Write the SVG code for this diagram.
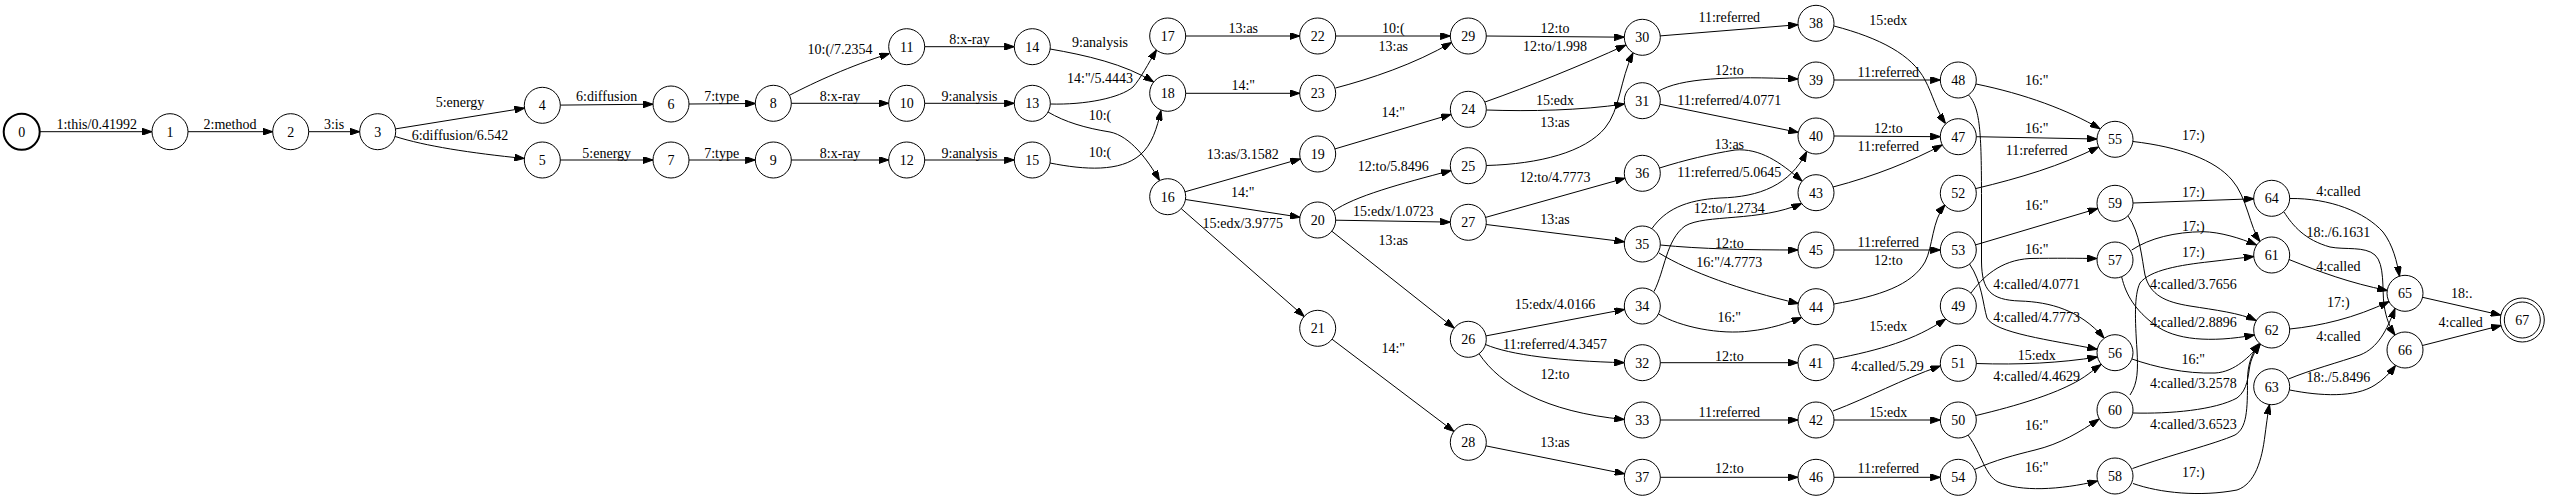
<svg xmlns="http://www.w3.org/2000/svg" width="2550" height="500" viewBox="0 0 2550 500">
<style>
.n circle{fill:none;stroke:#000;stroke-width:1}
.n text,.l{font-family:"Liberation Serif","Times New Roman",serif;font-size:14px;fill:#000;text-anchor:middle}
.e{fill:none;stroke:#000;stroke-width:1;marker-end:url(#ah)}
</style>
<defs>
<marker id="ah" viewBox="0 0 10 7" refX="10" refY="3.5" markerWidth="10" markerHeight="7" markerUnits="userSpaceOnUse" orient="auto"><path d="M0,0 L10,3.5 L0,7 z" fill="#000" stroke="#000" stroke-width="1"/></marker>
</defs>
<rect width="2550" height="500" fill="#fff"/>
<g id="connectors">
<path class="e" d="M39.7,131.7 L152,131.7"/><text class="l" x="96.7" y="129">1:this/0.41992</text>
<path class="e" d="M188,131.7 L272.7,131.7"/><text class="l" x="230" y="129">2:method</text>
<path class="e" d="M308.7,131.7 L359.7,131.7"/><text class="l" x="334" y="129">3:is</text>
<path class="e" d="M395.5,128.9 L524.5,108.1"/><text class="l" x="460" y="107">5:energy</text>
<path class="e" d="M395.2,136.5 C425,146 470,153 524.4,158.5"/><text class="l" x="460" y="140">6:diffusion/6.542</text>
<path class="e" d="M560.3,105.1 L653,104.2"/><text class="l" x="606.7" y="101">6:diffusion</text>
<path class="e" d="M560.3,160 L653,160"/><text class="l" x="606.7" y="157.5">5:energy</text>
<path class="e" d="M689,104 L755.3,103.5"/><text class="l" x="721.7" y="101">7:type</text>
<path class="e" d="M689,160 L755.3,160"/><text class="l" x="721.7" y="157.5">7:type</text>
<path class="e" d="M790,95 C815,82 850,66 889.5,53.5"/><text class="l" x="840" y="54">10:(/7.2354</text>
<path class="e" d="M791.3,103.3 L888.7,103.3"/><text class="l" x="840" y="101">8:x-ray</text>
<path class="e" d="M791.3,160 L888.7,160"/><text class="l" x="840" y="157.5">8:x-ray</text>
<path class="e" d="M924.7,46.7 L1014.3,46.7"/><text class="l" x="969.5" y="44">8:x-ray</text>
<path class="e" d="M924.7,103.3 L1014.3,103.3"/><text class="l" x="969.5" y="101">9:analysis</text>
<path class="e" d="M924.7,160 L1014.3,160"/><text class="l" x="969.5" y="157.5">9:analysis</text>
<path class="e" d="M1050,49 C1085,55 1125,64 1153.5,82"/><text class="l" x="1100" y="47.3">9:analysis</text>
<path class="e" d="M1050.3,104 C1085,105 1120,98 1133,87 C1141,78 1148,64 1156.5,50"/><text class="l" x="1100" y="83.3">14:"/5.4443</text>
<path class="e" d="M1048,112 C1065,122 1085,128 1110,132 C1130,136 1148,160 1159.5,180.5"/><text class="l" x="1100" y="120">10:(</text>
<path class="e" d="M1050,163 C1085,170 1120,172 1140,155 C1152,145 1157,128 1161,110.5"/><text class="l" x="1100" y="156.7">10:(</text>
<path class="e" d="M1185.7,36 L1299.7,36"/><text class="l" x="1243.3" y="33.3">13:as</text>
<path class="e" d="M1185.7,93.3 L1299.7,93.3"/><text class="l" x="1243.3" y="90">14:"</text>
<path class="e" d="M1185,191.8 L1300.4,158.9"/><text class="l" x="1242.7" y="159.3">13:as/3.1582</text>
<path class="e" d="M1185.5,199.5 L1299.9,217.2"/><text class="l" x="1242.7" y="197.3">14:"</text>
<path class="e" d="M1181.2,208.6 L1304.2,316.4"/><text class="l" x="1242.7" y="228.3">15:edx/3.9775</text>
<path class="e" d="M1335.7,36 L1450.3,36"/><text class="l" x="1393.3" y="33.3">10:(</text>
<path class="e" d="M1335.5,88 C1370,79 1415,64 1451.5,42.5"/><text class="l" x="1393.3" y="51">13:as</text>
<path class="e" d="M1335,148.9 L1451,114.4"/><text class="l" x="1393.3" y="116.7">14:"</text>
<path class="e" d="M1333.5,211 C1355,196 1400,184 1451,170.5"/><text class="l" x="1393.3" y="170.7">12:to/5.8496</text>
<path class="e" d="M1335.7,220.2 L1450.3,222.1"/><text class="l" x="1393.3" y="216">15:edx/1.0723</text>
<path class="e" d="M1331.8,231.2 L1454.2,328.1"/><text class="l" x="1393.3" y="245">13:as</text>
<path class="e" d="M1332,339.2 L1453.9,431.4"/><text class="l" x="1393.3" y="352.7">14:"</text>
<path class="e" d="M1486.3,36 L1624.3,37.2"/><text class="l" x="1555" y="33.3">12:to</text>
<path class="e" d="M1485,102 C1530,86 1580,66 1625.8,45"/><text class="l" x="1555" y="51">12:to/1.998</text>
<path class="e" d="M1486.3,110 C1530,111.5 1580,110.5 1624.4,104"/><text class="l" x="1555" y="104.7">15:edx</text>
<path class="e" d="M1486.3,165.5 C1540,164 1585,152 1605,128 C1620,110 1620,80 1633,53"/><text class="l" x="1555" y="126.7">13:as</text>
<path class="e" d="M1485.6,217.4 L1625,178.2"/><text class="l" x="1555" y="182.3">12:to/4.7773</text>
<path class="e" d="M1486.2,224.5 L1624.4,241.8"/><text class="l" x="1555" y="224">13:as</text>
<path class="e" d="M1486,335.9 L1624.6,309.4"/><text class="l" x="1555" y="309.3">15:edx/4.0166</text>
<path class="e" d="M1485.5,344.5 C1510,355 1560,361 1624.3,362.7"/><text class="l" x="1555" y="349.3">11:referred/4.3457</text>
<path class="e" d="M1479,353.7 C1500,385 1545,412 1624.3,419.5"/><text class="l" x="1555" y="379.3">12:to</text>
<path class="e" d="M1486,445.9 L1624.7,473.8"/><text class="l" x="1555" y="446.7">13:as</text>
<path class="e" d="M1660.2,35.9 L1798.1,24.7"/><text class="l" x="1729.3" y="22">11:referred</text>
<path class="e" d="M1658,91.5 C1680,78 1730,76 1798,79"/><text class="l" x="1729.3" y="74.7">12:to</text>
<path class="e" d="M1660,104.3 L1798.4,132.4"/><text class="l" x="1729.3" y="104.7">11:referred/4.0771</text>
<path class="e" d="M1659.5,168 C1685,160 1710,154 1735,150 C1760,148 1780,162 1802,181"/><text class="l" x="1729.3" y="148.7">13:as</text>
<path class="e" d="M1652,228.5 C1665,210 1685,200 1720,198 C1760,197 1790,185 1806.7,151.7"/><text class="l" x="1729.3" y="176.7">11:referred/5.0645</text>
<path class="e" d="M1654,291.5 C1665,270 1666,240 1685,226 C1705,214 1760,222 1801.5,203.5"/><text class="l" x="1729.3" y="213.3">12:to/1.2734</text>
<path class="e" d="M1660.3,245 C1700,249 1750,250 1798,250"/><text class="l" x="1729.3" y="248">12:to</text>
<path class="e" d="M1659,253 C1690,272 1740,290 1798.4,303.5"/><text class="l" x="1729.3" y="267.3">16:"/4.7773</text>
<path class="e" d="M1658.5,314 C1680,327 1720,335 1750,331 C1770,329 1788,323 1801.5,317.5"/><text class="l" x="1729.3" y="322.3">16:"</text>
<path class="e" d="M1660.3,362.7 L1798,362.7"/><text class="l" x="1729.3" y="360.7">12:to</text>
<path class="e" d="M1660.3,420 L1798,420"/><text class="l" x="1729.3" y="417.3">11:referred</text>
<path class="e" d="M1660.3,477.3 L1798,477.3"/><text class="l" x="1729.3" y="473.3">12:to</text>
<path class="e" d="M1834,26 C1880,38 1912,55 1925,80 C1933,95 1936,110 1945.5,123.5"/><text class="l" x="1888.3" y="24.7">15:edx</text>
<path class="e" d="M1834,80 L1940.3,80"/><text class="l" x="1888.3" y="77.3">11:referred</text>
<path class="e" d="M1834,136 L1940.3,136.7"/><text class="l" x="1888.3" y="133.3">12:to</text>
<path class="e" d="M1833,187 C1875,176 1912,161 1942,145"/><text class="l" x="1888.3" y="151.3">11:referred</text>
<path class="e" d="M1834,250 L1940.3,250"/><text class="l" x="1888.3" y="247.3">11:referred</text>
<path class="e" d="M1834,304 C1880,296 1912,285 1925,262 C1933,247 1932,220 1945,205"/><text class="l" x="1888.3" y="264.7">12:to</text>
<path class="e" d="M1834,359 C1880,350 1915,340 1945.5,319"/><text class="l" x="1888.3" y="331.3">15:edx</text>
<path class="e" d="M1833,411 C1870,397 1900,380 1940.3,366"/><text class="l" x="1887.3" y="370.7">4:called/5.29</text>
<path class="e" d="M1834,420 L1940.3,420"/><text class="l" x="1888.3" y="417.3">15:edx</text>
<path class="e" d="M1834,477.3 L1940.3,477.3"/><text class="l" x="1888.3" y="473.3">11:referred</text>
<path class="e" d="M1976,84 C2025,94 2068,110 2100,128.8"/><text class="l" x="2036.7" y="85">16:"</text>
<path class="e" d="M1968.5,95 C1980,108 1981.5,130 1981.5,200 L1981.5,262 C1982,290 1990,300 2020,301 C2050,302 2080,310 2104,338"/><text class="l" x="2036.7" y="289">4:called/4.0771</text>
<path class="e" d="M1976.3,136.7 L2097,139"/><text class="l" x="2036.7" y="133.3">16:"</text>
<path class="e" d="M1976,188.5 C2020,178 2060,166 2098.5,147"/><text class="l" x="2036.7" y="154.7">11:referred</text>
<path class="e" d="M1975.5,244.9 L2097.8,208.5"/><text class="l" x="2036.7" y="209.7">16:"</text>
<path class="e" d="M1969.5,264 C1982,282 1983,305 1987,318 C1995,333 2050,340 2097.3,349.3"/><text class="l" x="2036.7" y="322.3">4:called/4.7773</text>
<path class="e" d="M1971,293 C1982,278 2000,260 2030,258.5 C2055,258 2080,258.3 2097,258.5"/><text class="l" x="2036.7" y="254">16:"</text>
<path class="e" d="M1976.3,363.5 C2020,365 2060,363 2097.5,357"/><text class="l" x="2036.7" y="359.7">15:edx</text>
<path class="e" d="M1976,415.5 C2020,405 2050,395 2070,385 C2085,378 2093,370 2101,364.5"/><text class="l" x="2036.7" y="380.7">4:called/4.4629</text>
<path class="e" d="M1974.5,469.5 C1995,460 2015,455 2035,450 C2060,444 2080,432 2099,419"/><text class="l" x="2036.7" y="429.7">16:"</text>
<path class="e" d="M1968,435 C1982,455 1985,475 1998,482 C2020,492 2060,490 2097.5,481"/><text class="l" x="2036.7" y="472.3">16:"</text>
<path class="e" d="M2133,141.5 C2180,147 2215,160 2232,180 C2247,197 2250,228 2260,241.5"/><text class="l" x="2193.3" y="140">17:)</text>
<path class="e" d="M2133,203 L2253.7,198.8"/><text class="l" x="2193.3" y="197.3">17:)</text>
<path class="e" d="M2131.7,250 C2150,238 2175,232 2203,231.7 C2220,232 2240,238 2256.5,245"/><text class="l" x="2193.3" y="230.7">17:)</text>
<path class="e" d="M2130,395 C2138,383 2138,370 2137,350 C2135,320 2134,295 2140,283 C2150,270 2180,265 2210,261.7 C2225,260 2240,258 2253.7,256.5"/><text class="l" x="2193.3" y="256.7">17:)</text>
<path class="e" d="M2128,216 C2140,232 2142,260 2145,275 C2150,295 2165,302 2190,306 C2215,310 2240,313 2256,320.5"/><text class="l" x="2193.3" y="289">4:called/3.7656</text>
<path class="e" d="M2121.7,277 C2126,295 2135,310 2155,325 C2175,340 2210,343 2254.5,335"/><text class="l" x="2193.3" y="326.7">4:called/2.8896</text>
<path class="e" d="M2132,359 C2155,367 2185,374 2215,373 C2235,372 2250,356 2260.5,344"/><text class="l" x="2193.3" y="364">16:"</text>
<path class="e" d="M2133,413 C2170,414 2215,410 2237,398 C2248,390 2248,375 2250,365 C2252,356 2256,350 2260,344"/><text class="l" x="2193.3" y="388">4:called/3.2578</text>
<path class="e" d="M2132.5,468.5 C2170,455 2215,444 2235,435 C2247,428 2247.5,410 2247.5,380 C2247.5,365 2252,352 2259.5,343.5"/><text class="l" x="2193.3" y="429">4:called/3.6523</text>
<path class="e" d="M2133,483.5 C2160,493 2200,497 2237,490 C2255,484 2262,460 2265,435 C2267,420 2268,412 2269.5,404.5"/><text class="l" x="2193.3" y="476.7">17:)</text>
<path class="e" d="M2289.7,198.5 C2330,198 2365,212 2383,232 C2393,245 2397,262 2399.5,276.3"/><text class="l" x="2338.3" y="195.7">4:called</text>
<path class="e" d="M2284,212 C2293,226 2305,240 2330,247 C2345,250 2365,246 2375,255 C2385,264 2382,290 2384,305 C2386,318 2390,328 2395,335"/><text class="l" x="2338.3" y="237.3">18:./6.1631</text>
<path class="e" d="M2289,259.5 C2320,272 2350,283 2387.3,290.5"/><text class="l" x="2338.3" y="270.7">4:called</text>
<path class="e" d="M2289.7,329 C2320,326 2355,318 2389,301.5"/><text class="l" x="2338.3" y="307.3">17:)</text>
<path class="e" d="M2288.5,379 C2310,370 2340,362 2360,355 C2378,348 2387,330 2395,308.5"/><text class="l" x="2338.3" y="340.7">4:called</text>
<path class="e" d="M2289.7,390 C2320,396 2355,398 2375,385 C2383,380 2390,373 2395.5,365.5"/><text class="l" x="2338.3" y="382.3">18:./5.8496</text>
<path class="e" d="M2422.5,297.3 L2500.8,315.1"/><text class="l" x="2461.7" y="298">18:.</text>
<path class="e" d="M2422.4,345.5 L2501,325.5"/><text class="l" x="2460.7" y="326.7">4:called</text>
</g>
<g id="node0" class="n"><circle cx="21.7" cy="131.7" r="18" style="stroke-width:2"/><text x="21.7" y="136.7">0</text></g>
<g id="node1" class="n"><circle cx="170" cy="131.7" r="18"/><text x="170" y="136.7">1</text></g>
<g id="node2" class="n"><circle cx="290.7" cy="131.7" r="18"/><text x="290.7" y="136.7">2</text></g>
<g id="node3" class="n"><circle cx="377.7" cy="131.7" r="18"/><text x="377.7" y="136.7">3</text></g>
<g id="node4" class="n"><circle cx="542.3" cy="105.3" r="18"/><text x="542.3" y="110.3">4</text></g>
<g id="node5" class="n"><circle cx="542.3" cy="160" r="18"/><text x="542.3" y="165">5</text></g>
<g id="node6" class="n"><circle cx="671" cy="104" r="18"/><text x="671" y="109">6</text></g>
<g id="node7" class="n"><circle cx="671" cy="160" r="18"/><text x="671" y="165">7</text></g>
<g id="node8" class="n"><circle cx="773.3" cy="103.3" r="18"/><text x="773.3" y="108.3">8</text></g>
<g id="node9" class="n"><circle cx="773.3" cy="160" r="18"/><text x="773.3" y="165">9</text></g>
<g id="node10" class="n"><circle cx="906.7" cy="103.3" r="18"/><text x="906.7" y="108.3">10</text></g>
<g id="node11" class="n"><circle cx="906.7" cy="46.7" r="18"/><text x="906.7" y="51.7">11</text></g>
<g id="node12" class="n"><circle cx="906.7" cy="160" r="18"/><text x="906.7" y="165">12</text></g>
<g id="node13" class="n"><circle cx="1032.3" cy="103.3" r="18"/><text x="1032.3" y="108.3">13</text></g>
<g id="node14" class="n"><circle cx="1032.3" cy="46.7" r="18"/><text x="1032.3" y="51.7">14</text></g>
<g id="node15" class="n"><circle cx="1032.3" cy="160" r="18"/><text x="1032.3" y="165">15</text></g>
<g id="node16" class="n"><circle cx="1167.7" cy="196.7" r="18"/><text x="1167.7" y="201.7">16</text></g>
<g id="node17" class="n"><circle cx="1167.7" cy="36" r="18"/><text x="1167.7" y="41">17</text></g>
<g id="node18" class="n"><circle cx="1167.7" cy="93.3" r="18"/><text x="1167.7" y="98.3">18</text></g>
<g id="node19" class="n"><circle cx="1317.7" cy="154" r="18"/><text x="1317.7" y="159">19</text></g>
<g id="node20" class="n"><circle cx="1317.7" cy="220" r="18"/><text x="1317.7" y="225">20</text></g>
<g id="node21" class="n"><circle cx="1317.7" cy="328.3" r="18"/><text x="1317.7" y="333.3">21</text></g>
<g id="node22" class="n"><circle cx="1317.7" cy="36" r="18"/><text x="1317.7" y="41">22</text></g>
<g id="node23" class="n"><circle cx="1317.7" cy="93.3" r="18"/><text x="1317.7" y="98.3">23</text></g>
<g id="node24" class="n"><circle cx="1468.3" cy="109.3" r="18"/><text x="1468.3" y="114.3">24</text></g>
<g id="node25" class="n"><circle cx="1468.3" cy="165.7" r="18"/><text x="1468.3" y="170.7">25</text></g>
<g id="node26" class="n"><circle cx="1468.3" cy="339.3" r="18"/><text x="1468.3" y="344.3">26</text></g>
<g id="node27" class="n"><circle cx="1468.3" cy="222.3" r="18"/><text x="1468.3" y="227.3">27</text></g>
<g id="node28" class="n"><circle cx="1468.3" cy="442.3" r="18"/><text x="1468.3" y="447.3">28</text></g>
<g id="node29" class="n"><circle cx="1468.3" cy="36" r="18"/><text x="1468.3" y="41">29</text></g>
<g id="node30" class="n"><circle cx="1642.3" cy="37.3" r="18"/><text x="1642.3" y="42.3">30</text></g>
<g id="node31" class="n"><circle cx="1642.3" cy="100.7" r="18"/><text x="1642.3" y="105.7">31</text></g>
<g id="node32" class="n"><circle cx="1642.3" cy="362.7" r="18"/><text x="1642.3" y="367.7">32</text></g>
<g id="node33" class="n"><circle cx="1642.3" cy="420" r="18"/><text x="1642.3" y="425">33</text></g>
<g id="node34" class="n"><circle cx="1642.3" cy="306" r="18"/><text x="1642.3" y="311">34</text></g>
<g id="node35" class="n"><circle cx="1642.3" cy="244" r="18"/><text x="1642.3" y="249">35</text></g>
<g id="node36" class="n"><circle cx="1642.3" cy="173.3" r="18"/><text x="1642.3" y="178.3">36</text></g>
<g id="node37" class="n"><circle cx="1642.3" cy="477.3" r="18"/><text x="1642.3" y="482.3">37</text></g>
<g id="node38" class="n"><circle cx="1816" cy="23.3" r="18"/><text x="1816" y="28.3">38</text></g>
<g id="node39" class="n"><circle cx="1816" cy="80" r="18"/><text x="1816" y="85">39</text></g>
<g id="node40" class="n"><circle cx="1816" cy="136" r="18"/><text x="1816" y="141">40</text></g>
<g id="node41" class="n"><circle cx="1816" cy="362.7" r="18"/><text x="1816" y="367.7">41</text></g>
<g id="node42" class="n"><circle cx="1816" cy="420" r="18"/><text x="1816" y="425">42</text></g>
<g id="node43" class="n"><circle cx="1816" cy="192.7" r="18"/><text x="1816" y="197.7">43</text></g>
<g id="node44" class="n"><circle cx="1816" cy="306.7" r="18"/><text x="1816" y="311.7">44</text></g>
<g id="node45" class="n"><circle cx="1816" cy="250" r="18"/><text x="1816" y="255">45</text></g>
<g id="node46" class="n"><circle cx="1816" cy="477.3" r="18"/><text x="1816" y="482.3">46</text></g>
<g id="node47" class="n"><circle cx="1958.3" cy="136.7" r="18"/><text x="1958.3" y="141.7">47</text></g>
<g id="node48" class="n"><circle cx="1958.3" cy="80" r="18"/><text x="1958.3" y="85">48</text></g>
<g id="node49" class="n"><circle cx="1958.3" cy="306" r="18"/><text x="1958.3" y="311">49</text></g>
<g id="node50" class="n"><circle cx="1958.3" cy="420" r="18"/><text x="1958.3" y="425">50</text></g>
<g id="node51" class="n"><circle cx="1958.3" cy="363.3" r="18"/><text x="1958.3" y="368.3">51</text></g>
<g id="node52" class="n"><circle cx="1958.3" cy="193.3" r="18"/><text x="1958.3" y="198.3">52</text></g>
<g id="node53" class="n"><circle cx="1958.3" cy="250" r="18"/><text x="1958.3" y="255">53</text></g>
<g id="node54" class="n"><circle cx="1958.3" cy="477.3" r="18"/><text x="1958.3" y="482.3">54</text></g>
<g id="node55" class="n"><circle cx="2115" cy="139.3" r="18"/><text x="2115" y="144.3">55</text></g>
<g id="node56" class="n"><circle cx="2115" cy="352.7" r="18"/><text x="2115" y="357.7">56</text></g>
<g id="node57" class="n"><circle cx="2115" cy="260" r="18"/><text x="2115" y="265">57</text></g>
<g id="node58" class="n"><circle cx="2115" cy="476" r="18"/><text x="2115" y="481">58</text></g>
<g id="node59" class="n"><circle cx="2115" cy="203.3" r="18"/><text x="2115" y="208.3">59</text></g>
<g id="node60" class="n"><circle cx="2115" cy="410" r="18"/><text x="2115" y="415">60</text></g>
<g id="node61" class="n"><circle cx="2271.7" cy="255" r="18"/><text x="2271.7" y="260">61</text></g>
<g id="node62" class="n"><circle cx="2271.7" cy="330" r="18"/><text x="2271.7" y="335">62</text></g>
<g id="node63" class="n"><circle cx="2271.7" cy="386.7" r="18"/><text x="2271.7" y="391.7">63</text></g>
<g id="node64" class="n"><circle cx="2271.7" cy="198.3" r="18"/><text x="2271.7" y="203.3">64</text></g>
<g id="node65" class="n"><circle cx="2405" cy="293.3" r="18"/><text x="2405" y="298.3">65</text></g>
<g id="node66" class="n"><circle cx="2405" cy="350" r="18"/><text x="2405" y="355">66</text></g>
<g id="node67" class="n"><circle cx="2522.3" cy="320" r="18"/><circle cx="2522.3" cy="320" r="22"/><text x="2522.3" y="325">67</text></g>
</svg>
